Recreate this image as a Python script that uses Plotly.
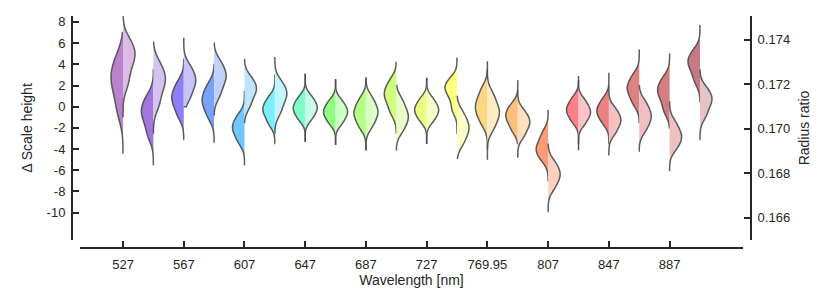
import plotly.graph_objects as go

# Wavelength bins (categories); only every other one is labelled
wavelengths = ["527", "547", "567", "587", "607", "627", "647", "667", "687", "707",
               "727", "747", "769.95", "787", "807", "827", "847", "867", "887", "907"]
tick_labels = ["527", "567", "607", "647", "687", "727", "769.95", "807", "847", "887"]
dsh_ticks = [-10, -8, -6, -4, -2, 0, 2, 4, 6, 8]
dsh_tick_text = ["-10", "-8", "-6", "-4", "-2", "0", "2", "4", "6", "8"]
rr_ticks = [0.166, 0.168, 0.170, 0.172, 0.174]
rr_tick_text = ["0.166", "0.168", "0.170", "0.172", "0.174"]

# Left halves: Δ Scale height samples (left axis)
dsh_samples = [
    [-0.45, 1.36, 2.5, 3.3, 4.58],
    [-2.67, -1.4, -0.6, -0.03, 0.88],
    [-0.8, 0.19, 0.8, 1.35, 2.22],
    [-0.93, 0.01, 0.6, 1.15, 2.02],
    [-3.3, -2.5, -2.0, -1.55, -0.83],
    [-1.6, -0.8, -0.3, 0.13, 0.82],
    [-1.19, -0.55, -0.15, 0.25, 0.89],
    [-1.54, -0.9, -0.5, -0.1, 0.54],
    [-1.9, -1.1, -0.6, -0.1, 0.7],
    [-0.5, 0.49, 1.1, 1.6, 2.4],
    [-1.34, -0.7, -0.3, 0.1, 0.74],
    [-0.23, 0.9, 1.6, 1.97, 2.55],
    [-1.48, -0.57, 0.0, 0.62, 1.6],
    [-2.2, -1.4, -0.9, -0.49, 0.17],
    [-4.97, -4.31, -3.9, -3.35, -2.48],
    [-1.4, -0.72, -0.3, 0.12, 0.8],
    [-1.5, -0.82, -0.4, 0.02, 0.7],
    [0.33, 1.18, 1.7, 2.18, 2.94],
    [-0.37, 0.72, 1.4, 1.88, 2.64],
    [2.45, 3.47, 4.1, 4.53, 5.22],
]
dsh_span = [
    [-4.4, 7.0], [-5.5, 3.5], [-3.1, 4.5], [-3.4, 4.0], [-5.5, 1.5],
    [-3.5, 3.0], [-3.3, 3.1], [-3.6, 2.6], [-4.1, 2.7], [-2.5, 4.2],
    [-3.5, 2.7], [-2.5, 4.6], [-4.0, 4.3], [-3.5, 2.5], [-7.0, -0.3],
    [-3.5, 2.9], [-3.5, 3.2], [-1.5, 5.4], [-2.0, 5.0], [0.5, 7.7],
]
dsh_bw = [1.2, 0.8, 0.7, 0.7, 0.6, 0.55, 0.5, 0.5, 0.6, 0.65,
          0.5, 0.6, 0.7, 0.55, 0.6, 0.5, 0.55, 0.6, 0.65, 0.65]

# Right halves: Radius ratio samples (right axis)
rr_samples = [
    [0.17207, 0.17278, 0.17322, 0.17349, 0.17392],
    [0.17109, 0.17173, 0.17213, 0.17242, 0.17289],
    [0.17137, 0.17184, 0.17213, 0.17238, 0.17278],
    [0.17153, 0.17202, 0.17232, 0.17257, 0.17297],
    [0.17104, 0.17148, 0.17175, 0.17195, 0.17228],
    [0.17075, 0.17122, 0.17151, 0.17173, 0.17208],
    [0.17044, 0.17075, 0.17094, 0.17113, 0.17143],
    [0.17025, 0.17056, 0.17075, 0.17094, 0.17124],
    [0.17013, 0.17051, 0.17075, 0.17099, 0.17137],
    [0.16994, 0.17032, 0.17056, 0.17083, 0.17126],
    [0.17035, 0.17065, 0.17084, 0.17103, 0.17134],
    [0.16936, 0.16977, 0.17004, 0.17028, 0.17069],
    [0.17004, 0.17048, 0.17075, 0.17103, 0.17151],
    [0.16968, 0.17004, 0.17027, 0.17047, 0.17078],
    [0.16735, 0.16772, 0.16794, 0.16816, 0.16850],
    [0.17023, 0.17055, 0.17075, 0.17095, 0.17127],
    [0.16980, 0.17015, 0.17037, 0.17057, 0.17089],
    [0.16994, 0.17032, 0.17056, 0.17080, 0.17118],
    [0.16912, 0.16945, 0.16966, 0.16989, 0.17027],
    [0.17057, 0.17100, 0.17127, 0.17148, 0.17180],
]
rr_span = [
    [0.17051, 0.17503], [0.16980, 0.17389], [0.17099, 0.17408], [0.17061, 0.17384],
    [0.17027, 0.17312], [0.16980, 0.17322], [0.16942, 0.17246], [0.16927, 0.17222],
    [0.16904, 0.17227], [0.16904, 0.17194], [0.16932, 0.17227], [0.16866, 0.17146],
    [0.16861, 0.17265], [0.16870, 0.17170], [0.16628, 0.16932], [0.16904, 0.17217],
    [0.16880, 0.17194], [0.16899, 0.17194], [0.16809, 0.17122], [0.16951, 0.17265],
]
rr_bw = [0.00043, 0.00040, 0.00033, 0.00033, 0.00029, 0.00031, 0.00024, 0.00024,
         0.00029, 0.00031, 0.00024, 0.00031, 0.00033, 0.00026, 0.00029, 0.00024,
         0.00026, 0.00029, 0.00029, 0.00029]

left_colors = ["#B882CC", "#A276DC", "#8E7EFA", "#78A2FA", "#70C8FF", "#7CEFFF",
               "#7EFFC8", "#8EFF7E", "#B4FF84", "#D0FF80", "#EAFF80", "#FFFF80",
               "#FFD780", "#FFBF7A", "#FF9C78", "#FF7F86", "#EC8080", "#E08080",
               "#D47E80", "#C87A82"]
right_colors = ["#DCBCE4", "#D6C2F0", "#CAC2FC", "#BED2FC", "#BEE4FF", "#C2F6FF",
                "#C4FFE6", "#CCFFC6", "#DCFFC8", "#E8FFC8", "#F4FFC8", "#FFFFC8",
                "#FFECC4", "#FFDFC0", "#FFD0C0", "#FFC2C6", "#F6C0C0", "#F0C0C0",
                "#ECC2C2", "#E6C4C6"]

FONT = "Liberation Sans, Arial, sans-serif"
OUTLINE = "rgba(75,75,75,0.9)"
VW = 0.79

fig = go.Figure()
for i, wl in enumerate(wavelengths):
    fig.add_trace(go.Violin(
        x=[wl] * len(dsh_samples[i]), y=dsh_samples[i], side="negative",
        bandwidth=dsh_bw[i], spanmode="manual", span=dsh_span[i],
        width=VW, scalemode="width", points=False,
        fillcolor=left_colors[i], line=dict(color=OUTLINE, width=1.5),
        opacity=1, showlegend=False, hoverinfo="skip", yaxis="y"))
    fig.add_trace(go.Violin(
        x=[wl] * len(rr_samples[i]), y=rr_samples[i], side="positive",
        bandwidth=rr_bw[i], spanmode="manual", span=rr_span[i],
        width=VW, scalemode="width", points=False,
        fillcolor=right_colors[i], line=dict(color=OUTLINE, width=1.5),
        opacity=1, showlegend=False, hoverinfo="skip", yaxis="y2"))

axis_common = dict(
    showgrid=False, zeroline=False, showline=True, linecolor="#262626",
    linewidth=2, ticks="inside", ticklen=6, tickwidth=1.5, tickcolor="#262626",
    tickfont=dict(family=FONT, size=13, color="#262626"), automargin=False,
)

fig.update_layout(
    width=831, height=305,
    margin=dict(l=72, r=80, t=16, b=57, pad=0, autoexpand=False),
    plot_bgcolor="white", paper_bgcolor="white",
    violinmode="overlay", violingap=0, violingroupgap=0,
    font=dict(family=FONT, size=13, color="#262626"),
    xaxis=dict(
        type="category", categoryorder="array", categoryarray=wavelengths,
        range=[-1.417, 20.417], domain=[8 / 679, 671 / 679],
        anchor="free", position=0,
        tickmode="array", tickvals=tick_labels, ticktext=tick_labels,
        ticklabelstandoff=4,
        title=dict(text="Wavelength [nm]", font=dict(family=FONT, size=14, color="#262626"), standoff=4),
        **axis_common),
    yaxis=dict(
        range=[-12.58, 8.56], domain=[8 / 232, 1],
        anchor="free", position=0,
        tickmode="array", tickvals=dsh_ticks, ticktext=dsh_tick_text,
        ticklabelstandoff=3,
        title=dict(text="Δ Scale height", font=dict(family=FONT, size=14, color="#262626"), standoff=10),
        **axis_common),
    yaxis2=dict(
        range=[0.16501, 0.175055], domain=[8 / 232, 1],
        overlaying="y", side="right", anchor="free", position=1,
        tickmode="array", tickvals=rr_ticks, ticktext=rr_tick_text,
        ticklabelstandoff=3,
        title=dict(text="Radius ratio", font=dict(family=FONT, size=14, color="#262626"), standoff=9),
        **axis_common),
)

fig.write_html("out.html", config={"displayModeBar": False},
               post_script="document.body.style.margin='0';")
